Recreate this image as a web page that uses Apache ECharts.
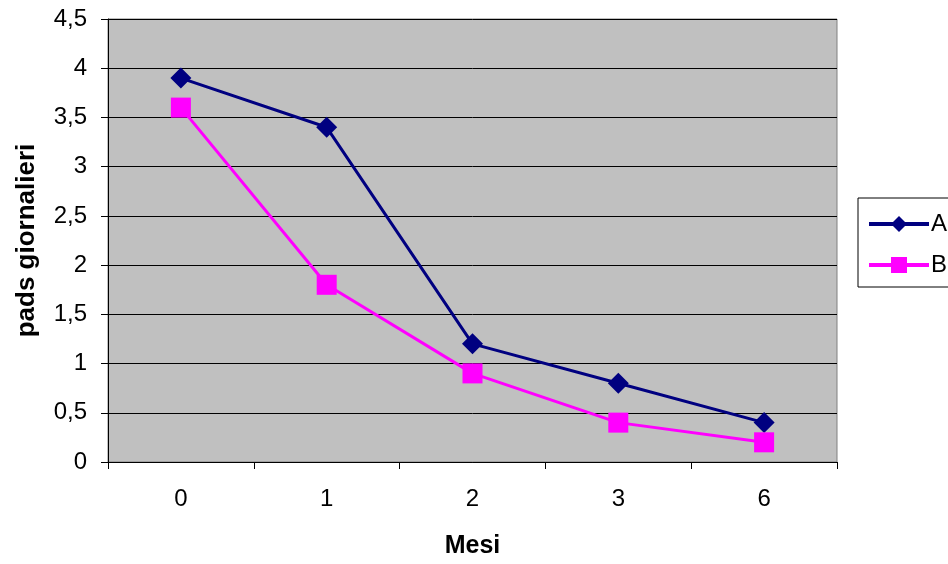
<!DOCTYPE html>
<html><head><meta charset="utf-8">
<script src="https://cdn.jsdelivr.net/npm/echarts@6/dist/echarts.min.js"></script>
<style>html,body{margin:0;padding:0;background:#fff}#c{width:948px;height:564px}</style>
</head><body><div id="c"></div>
<script>
const categories = ['0', '1', '2', '3', '6'];
const seriesA = [3.9, 3.4, 1.2, 0.8, 0.4];
const seriesB = [3.6, 1.8, 0.9, 0.4, 0.2];
const yTicks = { min: 0, max: 4.5, interval: 0.5 };

const chart = echarts.init(document.getElementById('c'), null, {renderer: 'canvas'});
const font = 'Liberation Sans, Arial, sans-serif';
chart.setOption({
  animation: false,
  backgroundColor: '#ffffff',
  grid: {left: 108, top: 19, width: 729, height: 444, show: true, backgroundColor: '#C0C0C0', borderColor: '#808080', borderWidth: 1},
  legend: {
    orient: 'vertical', left: 858, top: 198, padding: [14, 10, 10, 9],
    borderColor: '#000', borderWidth: 1, itemGap: 17,
    itemWidth: 60, itemHeight: 20,
    lineStyle: {width: 4},
    textStyle: {fontFamily: font, fontSize: 24, color: '#000', padding: [0, 0, 0, -3]},
    data: ['A', 'B']
  },
  xAxis: {
    type: 'category', data: categories, boundaryGap: true,
    name: 'Mesi', nameLocation: 'middle', nameGap: 72,
    nameTextStyle: {fontFamily: font, fontSize: 25, fontWeight: 'bold', color: '#000'},
    axisLine: {lineStyle: {color: '#000', width: 1}},
    axisTick: {show: true, length: 7, lineStyle: {color: '#000'}},
    axisLabel: {fontFamily: font, fontSize: 24, color: '#000', margin: 25},
    splitLine: {show: false}
  },
  yAxis: {
    type: 'value', min: yTicks.min, max: yTicks.max, interval: yTicks.interval,
    name: 'pads giornalieri', nameLocation: 'middle', nameGap: 68,
    nameTextStyle: {fontFamily: font, fontSize: 26, fontWeight: 'bold', color: '#000'},
    axisLine: {show: true, lineStyle: {color: '#000', width: 1}},
    axisTick: {show: true, length: 7, lineStyle: {color: '#000'}},
    axisLabel: {fontFamily: font, fontSize: 24, color: '#000', margin: 21,
      formatter: v => String(v).replace('.', ',')},
    splitLine: {show: true, lineStyle: {color: '#000', width: 1}}
  },
  series: [
    {name: 'A', type: 'line', data: seriesA, symbol: 'diamond', symbolSize: 21,
     color: '#000080', lineStyle: {width: 3, color: '#000080'}, itemStyle: {color: '#000080'}},
    {name: 'B', type: 'line', data: seriesB, symbol: 'rect', symbolSize: 20,
     color: '#FF00FF', lineStyle: {width: 3, color: '#FF00FF'}, itemStyle: {color: '#FF00FF'}}
  ]
});
</script></body></html>
